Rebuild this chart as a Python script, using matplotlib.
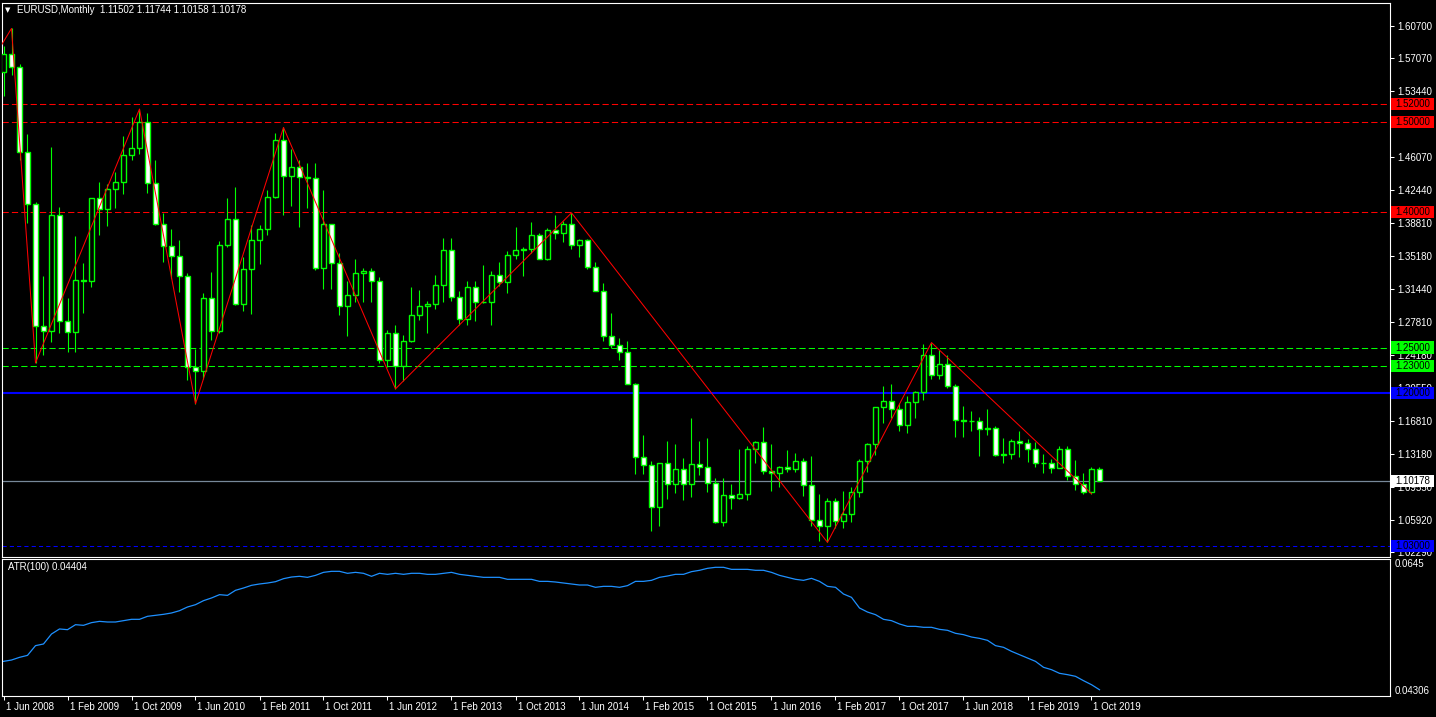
import numpy as np
import matplotlib
matplotlib.use('Agg')
import matplotlib.pyplot as plt
import matplotlib.transforms as mtransforms
from matplotlib.patches import Rectangle

# monthly EURUSD candles, 1 Jun 2008 .. 1 Nov 2019 (index 0 = Jun 2008)
opens = [1.5550, 1.5755, 1.5605, 1.4672, 1.4093, 1.2734, 1.2685,
         1.3971, 1.2797, 1.2668, 1.3248, 1.3236, 1.4156, 1.4031, 1.4255, 1.4331, 1.4638, 1.4716, 1.5001,
         1.4321, 1.3866, 1.3624, 1.3510, 1.3293, 1.2287, 1.2235, 1.3049, 1.2682, 1.3634, 1.3927, 1.2982,
         1.3367, 1.3692, 1.3813, 1.4165, 1.4806, 1.4399, 1.4502, 1.4396, 1.4379, 1.3387, 1.3866, 1.3440,
         1.2961, 1.3083, 1.3323, 1.3345, 1.3236, 1.2364, 1.2665, 1.2299, 1.2578, 1.2856, 1.2960, 1.2985,
         1.3192, 1.3577, 1.3057, 1.2818, 1.3168, 1.3006, 1.3010, 1.3302, 1.3222, 1.3525, 1.3585, 1.3591,
         1.3743, 1.3486, 1.3803, 1.3769, 1.3872, 1.3634, 1.3692, 1.3390, 1.3131, 1.2630, 1.2526, 1.2451,
         1.2098, 1.1290, 1.1196, 1.0731, 1.1222, 1.0986, 1.1150, 1.0982, 1.1212, 1.1176, 1.1003, 1.0564,
         1.0862, 1.0830, 1.0872, 1.1380, 1.1453, 1.1130, 1.1105, 1.1175, 1.1157, 1.1240, 1.0981, 1.0588,
         1.0517, 1.0797, 1.0575, 1.0651, 1.0895, 1.1243, 1.1426, 1.1842, 1.1906, 1.1814, 1.1645, 1.1901,
         1.2005, 1.2413, 1.2192, 1.2321, 1.2076, 1.1694, 1.1683, 1.1689, 1.1600, 1.1604, 1.1312, 1.1316,
         1.1467, 1.1444, 1.1372, 1.1217, 1.1215, 1.1169, 1.1370, 1.1076, 1.0987, 1.0899, 1.11502]
highs = [1.5846, 1.6038, 1.5648, 1.4867, 1.4118, 1.3296, 1.4720,
         1.4060, 1.3045, 1.3738, 1.3432, 1.4160, 1.4339, 1.4318, 1.4447, 1.4844, 1.5061, 1.5144, 1.5103,
         1.4580, 1.3994, 1.3816, 1.3691, 1.3328, 1.2487, 1.3110, 1.3334, 1.3680, 1.4158, 1.4283, 1.3500,
         1.3861, 1.3862, 1.4249, 1.4882, 1.4940, 1.4697, 1.4578, 1.4549, 1.4548, 1.4247, 1.3875, 1.3550,
         1.3234, 1.3487, 1.3386, 1.3384, 1.3283, 1.2690, 1.2746, 1.2638, 1.3172, 1.3140, 1.3011, 1.3308,
         1.3711, 1.3711, 1.3126, 1.3243, 1.3242, 1.3416, 1.3346, 1.3453, 1.3569, 1.3832, 1.3620, 1.3893,
         1.3775, 1.3825, 1.3967, 1.3906, 1.3993, 1.3701, 1.3700, 1.3444, 1.3221, 1.2887, 1.2601, 1.2570,
         1.2105, 1.1534, 1.1243, 1.1224, 1.1467, 1.1436, 1.1278, 1.1714, 1.1460, 1.1495, 1.1057, 1.1059,
         1.0985, 1.1376, 1.1410, 1.1464, 1.1616, 1.1428, 1.1186, 1.1366, 1.1327, 1.1278, 1.1300, 1.0874,
         1.0829, 1.0829, 1.0906, 1.0950, 1.1268, 1.1445, 1.1846, 1.2070, 1.2092, 1.1880, 1.1962, 1.2023,
         1.2537, 1.2555, 1.2476, 1.2414, 1.2097, 1.1852, 1.1791, 1.1734, 1.1815, 1.1625, 1.1500, 1.1486,
         1.1570, 1.1489, 1.1448, 1.1324, 1.1265, 1.1412, 1.1413, 1.1249, 1.1109, 1.1179, 1.11744]
lows = [1.5284, 1.5521, 1.4578, 1.3882, 1.2329, 1.2422, 1.2558,
        1.2661, 1.2456, 1.2455, 1.2886, 1.3167, 1.3748, 1.3850, 1.4046, 1.4206, 1.4578, 1.4643, 1.4218,
        1.3863, 1.3443, 1.3266, 1.3115, 1.2143, 1.1876, 1.2152, 1.2588, 1.2664, 1.3617, 1.2969, 1.2909,
        1.2871, 1.3430, 1.3749, 1.4159, 1.3968, 1.4070, 1.3838, 1.4050, 1.3362, 1.3144, 1.3146, 1.2858,
        1.2624, 1.3006, 1.3002, 1.3002, 1.2334, 1.2286, 1.2042, 1.2132, 1.2562, 1.2802, 1.2661, 1.2924,
        1.3002, 1.3020, 1.2745, 1.2746, 1.2795, 1.2999, 1.2755, 1.3186, 1.3105, 1.3480, 1.3296, 1.3550,
        1.3478, 1.3476, 1.3705, 1.3673, 1.3588, 1.3503, 1.3368, 1.3130, 1.2571, 1.2500, 1.2357, 1.2097,
        1.1098, 1.1097, 1.0462, 1.0520, 1.0818, 1.0888, 1.0808, 1.0848, 1.1087, 1.0896, 1.0558, 1.0523,
        1.0709, 1.0822, 1.0812, 1.1217, 1.1098, 1.0911, 1.0952, 1.1123, 1.1122, 1.0852, 1.0518, 1.0352,
        1.0340, 1.0494, 1.0494, 1.0569, 1.0838, 1.1118, 1.1313, 1.1662, 1.1717, 1.1575, 1.1554, 1.1717,
        1.1915, 1.2153, 1.2155, 1.2053, 1.1510, 1.1508, 1.1573, 1.1301, 1.1526, 1.1302, 1.1215, 1.1269,
        1.1289, 1.1234, 1.1176, 1.1110, 1.1107, 1.1160, 1.1027, 1.0926, 1.0879, 1.0879, 1.10158]
closes = [1.5755, 1.5605, 1.4672, 1.4093, 1.2734, 1.2685, 1.3971,
          1.2797, 1.2668, 1.3248, 1.3236, 1.4156, 1.4031, 1.4255, 1.4331, 1.4638, 1.4716, 1.5001, 1.4321,
          1.3866, 1.3624, 1.3510, 1.3293, 1.2287, 1.2235, 1.3049, 1.2682, 1.3634, 1.3927, 1.2982, 1.3367,
          1.3692, 1.3813, 1.4165, 1.4806, 1.4399, 1.4502, 1.4396, 1.4379, 1.3387, 1.3866, 1.3440, 1.2961,
          1.3083, 1.3323, 1.3345, 1.3236, 1.2364, 1.2665, 1.2299, 1.2578, 1.2856, 1.2960, 1.2985, 1.3192,
          1.3577, 1.3057, 1.2818, 1.3168, 1.3006, 1.3010, 1.3302, 1.3222, 1.3525, 1.3585, 1.3591, 1.3743,
          1.3486, 1.3803, 1.3769, 1.3872, 1.3634, 1.3692, 1.3390, 1.3131, 1.2630, 1.2526, 1.2451, 1.2098,
          1.1290, 1.1196, 1.0731, 1.1222, 1.0986, 1.1150, 1.0982, 1.1212, 1.1176, 1.1003, 1.0564, 1.0862,
          1.0830, 1.0872, 1.1380, 1.1453, 1.1130, 1.1105, 1.1175, 1.1157, 1.1240, 1.0981, 1.0588, 1.0517,
          1.0797, 1.0575, 1.0651, 1.0895, 1.1243, 1.1426, 1.1842, 1.1906, 1.1814, 1.1645, 1.1901, 1.2005,
          1.2413, 1.2192, 1.2321, 1.2076, 1.1694, 1.1683, 1.1689, 1.1600, 1.1604, 1.1312, 1.1316, 1.1467,
          1.1444, 1.1372, 1.1217, 1.1215, 1.1169, 1.1370, 1.1076, 1.0987, 1.0899, 1.1152, 1.10178]

# ATR(100), one value per month
atr = [0.04848, 0.04869, 0.04911, 0.04942, 0.05094, 0.05120, 0.05276, 0.05355, 0.05344, 0.05422,
       0.05412, 0.05454, 0.05474, 0.05464, 0.05464, 0.05485, 0.05506, 0.05506, 0.05553, 0.05568,
       0.05584, 0.05605, 0.05641, 0.05699, 0.05735, 0.05798, 0.05840, 0.05892, 0.05881, 0.05960,
       0.05996, 0.06038, 0.06059, 0.06074, 0.06095, 0.06142, 0.06168, 0.06179, 0.06163, 0.06194,
       0.06241, 0.06257, 0.06257, 0.06226, 0.06241, 0.06226, 0.06179, 0.06226, 0.06210, 0.06226,
       0.06210, 0.06226, 0.06226, 0.06210, 0.06210, 0.06226, 0.06241, 0.06210, 0.06194, 0.06179,
       0.06163, 0.06163, 0.06163, 0.06132, 0.06132, 0.06132, 0.06132, 0.06100, 0.06100, 0.06090,
       0.06074, 0.06059, 0.06043, 0.06043, 0.06007, 0.06022, 0.06022, 0.06007, 0.06033, 0.06100,
       0.06100, 0.06116, 0.06163, 0.06184, 0.06210, 0.06210, 0.06252, 0.06273, 0.06304, 0.06320,
       0.06320, 0.06288, 0.06288, 0.06288, 0.06273, 0.06273, 0.06241, 0.06194, 0.06163, 0.06132,
       0.06116, 0.06147, 0.06100, 0.06022, 0.06007, 0.05902, 0.05850, 0.05683, 0.05620, 0.05579,
       0.05506, 0.05485, 0.05433, 0.05396, 0.05396, 0.05381, 0.05381, 0.05349, 0.05334, 0.05287,
       0.05266, 0.05229, 0.05208, 0.05177, 0.05094, 0.05068, 0.05005, 0.04953, 0.04901, 0.04848,
       0.04755, 0.04718, 0.04661, 0.04640, 0.04614, 0.04546, 0.04483, 0.04404]

# zigzag turning points (month index, price)
zz_idx = [-2, 1, 4, 17, 24, 35, 49, 71, 103, 116, 136]
zz_price = [1.5596, 1.6038, 1.2329, 1.5144, 1.1876, 1.4940, 1.2042, 1.3993, 1.0340, 1.2555, 1.0879]

# horizontal levels
red_levels = [1.52, 1.50, 1.40]
green_levels = [1.25, 1.23]
blue_solid = 1.20
blue_dash = 1.03
bid = 1.10178

price_ticks = [1.607, 1.5707, 1.5344, 1.4981, 1.4607, 1.4244, 1.3881, 1.3518, 1.3144,
               1.2781, 1.2418, 1.2055, 1.1681, 1.1318, 1.0955, 1.0592, 1.0229]
date_idx = [0, 8, 16, 24, 32, 40, 48, 56, 64, 72, 80, 88, 96, 104, 112, 120, 128, 136]
date_labels = ['1 Jun 2008', '1 Feb 2009', '1 Oct 2009', '1 Jun 2010', '1 Feb 2011', '1 Oct 2011',
               '1 Jun 2012', '1 Feb 2013', '1 Oct 2013', '1 Jun 2014', '1 Feb 2015', '1 Oct 2015',
               '1 Jun 2016', '1 Feb 2017', '1 Oct 2017', '1 Jun 2018', '1 Feb 2019', '1 Oct 2019']

FONT = ['Liberation Sans', 'DejaVu Sans']
plt.rcParams['font.family'] = FONT
W, H = 1436, 717
GREEN = '#00ff00'

fig = plt.figure(figsize=(W / 100, H / 100), dpi=100, facecolor='black')
ax = fig.add_axes([2 / W, 1 - 557 / H, 1388 / W, 554 / H], facecolor='black')
ax2 = fig.add_axes([2 / W, 1 - 696 / H, 1388 / W, 137 / H], facecolor='black', sharex=ax)

o = np.array(opens); h = np.array(highs); l = np.array(lows); c = np.array(closes)
x = np.arange(len(o))
bull = c >= o

ax.vlines(x, l, h, color=GREEN, lw=0.8, zorder=2)
ax.bar(x, c - o, bottom=o, width=0.52, color=np.where(bull, 'black', 'white'),
       edgecolor=GREEN, linewidth=1.0, zorder=3)

for p in red_levels:
    ax.axhline(p, color='#ff0000', lw=0.75, ls=(0, (6, 3)), zorder=1)
for p in green_levels:
    ax.axhline(p, color=GREEN, lw=0.75, ls=(0, (6, 3)), zorder=1)
ax.axhline(blue_solid, color='#0000ff', lw=1.5, zorder=1)
ax.axhline(blue_dash, color='#0000ff', lw=0.75, ls=(0, (4, 3)), zorder=1)
ax.axhline(bid, color='#778899', lw=0.9, zorder=1)

ax.plot(zz_idx, zz_price, color='#ff0000', lw=0.75, zorder=4)

ax.set_xlim(-0.1875, -0.1875 + 1388 / 8)
ax.set_ylim(1.52 - 453 / 902, 1.52 + 101 / 902)

ax.yaxis.tick_right()
ax.set_yticks(price_ticks, ['%.5f' % t for t in price_ticks])
ax.tick_params(axis='y', colors='white', length=3, width=0.75, pad=2, labelsize=7)
ax.tick_params(axis='x', bottom=False, labelbottom=False)
for s in ax.spines.values():
    s.set_color('white'); s.set_linewidth(0.8)

# price boxes on the right scale
tb = mtransforms.blended_transform_factory(ax.transAxes, ax.transData)
boxes = [(p, '#ff0000') for p in red_levels] + [(p, GREEN) for p in green_levels] + \
        [(blue_solid, '#0000ff'), (bid, 'white'), (blue_dash, '#0000ff')]
for p, col in boxes:
    ax.add_patch(Rectangle((1.0008, p - 0.0067), 0.031, 0.0134, transform=tb,
                           facecolor=col, edgecolor='none', clip_on=False, zorder=6))
    ax.text(1.0008 + 0.0155, p, '%.5f' % p, transform=tb, ha='center', va='center',
            fontsize=7, color='black', zorder=7, clip_on=False)

# ATR window
ax2.plot(x, atr, color='#1e90ff', lw=0.9)
ax2.set_ylim(0.04306, 0.0645)
ax2.yaxis.tick_right()
ax2.set_yticks([0.0645, 0.04306], ['0.0645', '0.04306'])
ax2.tick_params(axis='y', colors='white', length=0, pad=3, labelsize=7)
yl = ax2.get_yticklabels()
yl[0].set_verticalalignment('top')
yl[1].set_verticalalignment('bottom')
ax2.set_xticks(date_idx, date_labels)
ax2.tick_params(axis='x', colors='white', length=3, width=0.75, pad=1.5, labelsize=7)
off = mtransforms.ScaledTranslation(2 / 100, 0, fig.dpi_scale_trans)
for lab in ax2.get_xticklabels():
    lab.set_horizontalalignment('left')
    lab.set_transform(lab.get_transform() + off)
for s in ax2.spines.values():
    s.set_color('white'); s.set_linewidth(0.8)
ax2.text(6 / 1388, 1 - 8 / 137, 'ATR(100) 0.04404', transform=ax2.transAxes,
         color='white', fontsize=7, va='center', ha='left')

fig.text(8 / W, 1 - 10 / H, '\u25bc', color='white', fontsize=5, va='center', ha='center',
         family=['DejaVu Sans'])
fig.text(17 / W, 1 - 10 / H, 'EURUSD,Monthly  1.11502 1.11744 1.10158 1.10178',
         color='white', fontsize=7, va='center', ha='left')

fig.savefig('out.png', dpi=100, facecolor='black')
